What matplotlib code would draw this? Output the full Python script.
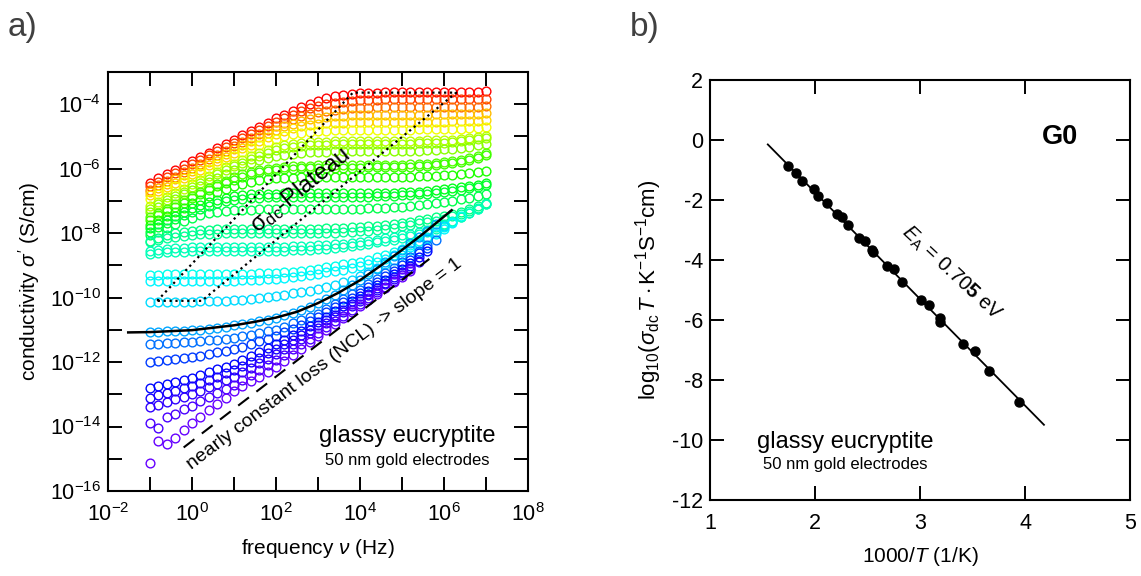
import numpy as np
import matplotlib
matplotlib.use('Agg')
import matplotlib.pyplot as plt
from matplotlib import colors
from matplotlib.ticker import FixedLocator, FuncFormatter, NullLocator

plt.rcParams['font.family'] = ['Liberation Sans', 'DejaVu Sans']
plt.rcParams['mathtext.fontset'] = 'custom'
plt.rcParams['mathtext.rm'] = 'Liberation Sans'
plt.rcParams['mathtext.it'] = 'Liberation Sans:italic'
plt.rcParams['mathtext.bf'] = 'Liberation Sans:bold'
plt.rcParams['axes.unicode_minus'] = False

# measurement frequencies: 5 points per decade, 0.1 Hz ... 10 MHz
freq = np.logspace(-1, 7, 41)

# log10 sigma' (S/cm) per temperature, first value at 0.1 Hz
s573 = [-6.44, -6.30, -6.17, -6.03, -5.90, -5.77, -5.63, -5.50, -5.36, -5.23,
        -5.10, -4.96, -4.83, -4.70, -4.57, -4.44, -4.32, -4.20, -4.09, -3.99,
        -3.90, -3.82, -3.76, -3.72, -3.69, -3.66, -3.65, -3.64, -3.63, -3.62,
        -3.62, -3.62, -3.62, -3.62, -3.62, -3.62, -3.62, -3.62, -3.61, -3.61, -3.60]
s551 = [-6.53, -6.40, -6.26, -6.13, -6.00, -5.86, -5.73, -5.59, -5.46, -5.33,
        -5.19, -5.06, -4.93, -4.80, -4.67, -4.55, -4.43, -4.32, -4.22, -4.13,
        -4.05, -3.99, -3.95, -3.92, -3.89, -3.88, -3.87, -3.86, -3.85, -3.85,
        -3.85, -3.85, -3.85, -3.85, -3.85, -3.85, -3.84, -3.84, -3.84, -3.83, -3.83]
s532 = [-6.65, -6.51, -6.38, -6.25, -6.11, -5.98, -5.84, -5.71, -5.58, -5.44,
        -5.31, -5.18, -5.05, -4.92, -4.80, -4.68, -4.57, -4.47, -4.38, -4.30,
        -4.24, -4.20, -4.17, -4.14, -4.13, -4.12, -4.11, -4.10, -4.10, -4.10,
        -4.10, -4.10, -4.10, -4.10, -4.10, -4.09, -4.09, -4.09, -4.08, -4.08, -4.07]
s503 = [-6.73, -6.60, -6.47, -6.33, -6.20, -6.06, -5.93, -5.80, -5.66, -5.53,
        -5.40, -5.27, -5.14, -5.02, -4.90, -4.79, -4.69, -4.60, -4.52, -4.46,
        -4.42, -4.39, -4.36, -4.35, -4.34, -4.33, -4.32, -4.32, -4.32, -4.32,
        -4.32, -4.32, -4.32, -4.32, -4.31, -4.31, -4.31, -4.30, -4.30, -4.29, -4.28]
s493 = [-6.83, -6.70, -6.56, -6.43, -6.29, -6.16, -6.03, -5.89, -5.76, -5.63,
        -5.50, -5.37, -5.25, -5.13, -5.02, -4.92, -4.83, -4.75, -4.69, -4.65,
        -4.62, -4.59, -4.58, -4.57, -4.56, -4.55, -4.55, -4.55, -4.55, -4.55,
        -4.55, -4.55, -4.55, -4.54, -4.54, -4.54, -4.53, -4.53, -4.52, -4.51, -4.49]
s473 = [-6.94, -6.80, -6.67, -6.53, -6.40, -6.27, -6.13, -6.00, -5.87, -5.74,
        -5.61, -5.49, -5.37, -5.26, -5.16, -5.07, -4.99, -4.93, -4.89, -4.86,
        -4.83, -4.82, -4.81, -4.80, -4.79, -4.79, -4.79, -4.79, -4.79, -4.79,
        -4.79, -4.79, -4.78, -4.78, -4.78, -4.77, -4.77, -4.76, -4.75, -4.73, -4.71]
s453 = [-7.15, -7.02, -6.88, -6.75, -6.62, -6.48, -6.35, -6.22, -6.09, -5.96,
        -5.84, -5.72, -5.61, -5.51, -5.42, -5.34, -5.28, -5.24, -5.21, -5.18,
        -5.17, -5.16, -5.15, -5.14, -5.14, -5.14, -5.14, -5.14, -5.14, -5.14,
        -5.13, -5.13, -5.13, -5.12, -5.12, -5.11, -5.10, -5.08, -5.06, -5.03, -5.00]
s442 = [-7.24, -7.11, -6.97, -6.84, -6.71, -6.57, -6.44, -6.31, -6.18, -6.05,
        -5.93, -5.81, -5.70, -5.60, -5.51, -5.43, -5.37, -5.33, -5.30, -5.27,
        -5.26, -5.25, -5.24, -5.23, -5.23, -5.23, -5.23, -5.23, -5.23, -5.22,
        -5.22, -5.22, -5.21, -5.21, -5.20, -5.19, -5.17, -5.15, -5.12, -5.09, -5.05]
s433 = [-7.34, -7.20, -7.07, -6.94, -6.80, -6.67, -6.54, -6.41, -6.28, -6.16,
        -6.04, -5.93, -5.83, -5.74, -5.66, -5.60, -5.56, -5.53, -5.50, -5.49,
        -5.48, -5.47, -5.46, -5.46, -5.46, -5.46, -5.46, -5.46, -5.45, -5.45,
        -5.45, -5.44, -5.44, -5.43, -5.42, -5.40, -5.38, -5.35, -5.32, -5.28, -5.22]
s413 = [-7.51, -7.38, -7.24, -7.11, -6.98, -6.85, -6.72, -6.60, -6.48, -6.37,
        -6.27, -6.18, -6.10, -6.04, -6.00, -5.97, -5.94, -5.93, -5.92, -5.91,
        -5.90, -5.90, -5.90, -5.90, -5.90, -5.90, -5.89, -5.89, -5.89, -5.88,
        -5.88, -5.87, -5.86, -5.84, -5.82, -5.79, -5.76, -5.72, -5.66, -5.60, -5.52]
s404 = [-7.58, -7.45, -7.31, -7.18, -7.05, -6.92, -6.79, -6.67, -6.55, -6.44,
        -6.34, -6.25, -6.17, -6.11, -6.07, -6.04, -6.01, -6.00, -5.99, -5.98,
        -5.97, -5.97, -5.97, -5.97, -5.97, -5.97, -5.96, -5.96, -5.96, -5.95,
        -5.95, -5.94, -5.93, -5.91, -5.89, -5.86, -5.83, -5.79, -5.73, -5.67, -5.59]
s393 = [-7.74, -7.60, -7.47, -7.34, -7.21, -7.08, -6.96, -6.84, -6.73, -6.63,
        -6.54, -6.46, -6.40, -6.36, -6.33, -6.30, -6.29, -6.28, -6.27, -6.26,
        -6.26, -6.26, -6.26, -6.26, -6.26, -6.26, -6.26, -6.26, -6.26, -6.26,
        -6.26, -6.25, -6.24, -6.23, -6.22, -6.21, -6.19, -6.17, -6.14, -6.11, -6.08]
s373 = [-7.84, -7.71, -7.58, -7.46, -7.34, -7.23, -7.13, -7.04, -6.96, -6.90,
        -6.86, -6.83, -6.80, -6.79, -6.78, -6.77, -6.76, -6.76, -6.76, -6.76,
        -6.76, -6.76, -6.76, -6.76, -6.76, -6.76, -6.76, -6.76, -6.75, -6.74,
        -6.73, -6.72, -6.71, -6.69, -6.67, -6.64, -6.61, -6.58, -6.54, -6.50, -6.45]
s363 = [-7.95, -7.82, -7.69, -7.57, -7.45, -7.34, -7.24, -7.15, -7.07, -7.01,
        -6.97, -6.94, -6.91, -6.90, -6.89, -6.88, -6.87, -6.87, -6.87, -6.87,
        -6.87, -6.87, -6.87, -6.87, -6.87, -6.87, -6.87, -6.86, -6.85, -6.84,
        -6.83, -6.82, -6.80, -6.78, -6.75, -6.72, -6.69, -6.65, -6.61, -6.56, -6.52]
s353 = [-8.07, -7.95, -7.83, -7.72, -7.62, -7.53, -7.45, -7.39, -7.35, -7.32,
        -7.29, -7.28, -7.27, -7.26, -7.25, -7.25, -7.25, -7.25, -7.25, -7.25,
        -7.25, -7.25, -7.25, -7.25, -7.25, -7.24, -7.23, -7.22, -7.21, -7.20,
        -7.18, -7.16, -7.13, -7.10, -7.07, -7.03, -6.99, -6.94, -6.90, -6.85, -6.79]
s333 = [-8.23, -8.14, -8.06, -8.00, -7.96, -7.93, -7.90, -7.89, -7.88, -7.87,
        -7.86, -7.86, -7.86, -7.86, -7.86, -7.86, -7.86, -7.86, -7.86, -7.86,
        -7.86, -7.85, -7.84, -7.83, -7.82, -7.81, -7.79, -7.77, -7.74, -7.71,
        -7.68, -7.64, -7.60, -7.55, -7.51, -7.46, -7.40, -7.33, -7.26, -7.17, -7.07]
s324 = [-8.29, -8.21, -8.15, -8.11, -8.08, -8.05, -8.04, -8.03, -8.02, -8.01,
        -8.01, -8.01, -8.01, -8.01, -8.01, -8.01, -8.01, -8.01, -8.01, -8.01,
        -8.00, -7.99, -7.98, -7.97, -7.96, -7.94, -7.92, -7.89, -7.86, -7.83,
        -7.79, -7.75, -7.70, -7.66, -7.61, -7.55, -7.48, -7.41, -7.32, -7.22, -7.10]
s313a = [-8.56, -8.52, -8.49, -8.46, -8.45, -8.44, -8.43, -8.42, -8.42, -8.42,
         -8.42, -8.42, -8.42, -8.42, -8.42, -8.42, -8.42, -8.41, -8.40, -8.39,
         -8.38, -8.37, -8.35, -8.33, -8.30, -8.27, -8.24, -8.20, -8.16, -8.11,
         -8.07, -8.02, -7.96, -7.89, -7.82, -7.73, -7.63, -7.51, -7.38, -7.25, -7.11]
s313b = [-8.65, -8.62, -8.59, -8.58, -8.57, -8.56, -8.55, -8.55, -8.55, -8.55,
         -8.55, -8.55, -8.55, -8.55, -8.55, -8.55, -8.54, -8.53, -8.52, -8.51,
         -8.50, -8.48, -8.46, -8.43, -8.40, -8.37, -8.33, -8.29, -8.24, -8.20,
         -8.15, -8.09, -8.02, -7.95, -7.86, -7.76, -7.64, -7.51, -7.38, -7.24]
s293 = [-9.30, -9.29, -9.28, -9.28, -9.28, -9.28, -9.28, -9.28, -9.28, -9.28,
        -9.28, -9.27, -9.26, -9.25, -9.24, -9.23, -9.21, -9.19, -9.16, -9.13,
        -9.10, -9.06, -9.02, -8.97, -8.93, -8.88, -8.82, -8.75, -8.68, -8.59,
        -8.49, -8.37, -8.24, -8.11, -7.97, -7.82, -7.66, -7.48]
s283 = [-9.50, -9.49, -9.48, -9.48, -9.48, -9.48, -9.48, -9.48, -9.48, -9.48,
        -9.47, -9.46, -9.45, -9.44, -9.43, -9.41, -9.39, -9.36, -9.33, -9.30,
        -9.26, -9.22, -9.17, -9.13, -9.08, -9.02, -8.95, -8.88, -8.79, -8.69,
        -8.57, -8.44, -8.31, -8.17, -8.02, -7.86, -7.68]
s273 = [-10.13, -10.13, -10.13, -10.13, -10.13, -10.13, -10.12, -10.11, -10.10, -10.09,
        -10.08, -10.06, -10.04, -10.01, -9.98, -9.95, -9.91, -9.87, -9.82, -9.78,
        -9.73, -9.67, -9.60, -9.53, -9.44, -9.34, -9.22, -9.09, -8.96, -8.82,
        -8.67, -8.51, -8.33, -8.15, -7.96, -7.77]
s253 = [-11.07, -11.06, -11.05, -11.04, -11.03, -11.01, -10.99, -10.96, -10.93, -10.90,
        -10.86, -10.82, -10.78, -10.73, -10.68, -10.62, -10.55, -10.48, -10.40, -10.29,
        -10.17, -10.04, -9.91, -9.77, -9.62, -9.46, -9.28, -9.10, -8.91, -8.71,
        -8.52, -8.32, -8.12, -7.92, -7.72]
s233 = [-11.45, -11.44, -11.42, -11.41, -11.39, -11.38, -11.35, -11.33, -11.30, -11.28,
        -11.25, -11.20, -11.15, -11.10, -11.05, -11.00, -10.90, -10.80, -10.70, -10.60,
        -10.50, -10.35, -10.20, -10.05, -9.90, -9.75, -9.58, -9.41, -9.24, -9.07,
        -8.90, -8.73, -8.55, -8.38, -8.20]
s213 = [-12.00, -11.97, -11.94, -11.91, -11.88, -11.85, -11.80, -11.75, -11.70, -11.65,
        -11.60, -11.52, -11.44, -11.36, -11.28, -11.20, -11.08, -10.96, -10.84, -10.72,
        -10.60, -10.45, -10.30, -10.15, -10.00, -9.85, -9.68, -9.51, -9.34, -9.17,
        -9.00, -8.82, -8.63, -8.45]
s193 = [-12.80, -12.74, -12.68, -12.62, -12.56, -12.50, -12.41, -12.32, -12.23, -12.14,
        -12.05, -11.93, -11.81, -11.69, -11.57, -11.45, -11.31, -11.17, -11.03, -10.89,
        -10.75, -10.59, -10.43, -10.27, -10.11, -9.95, -9.78, -9.61, -9.44, -9.27,
        -9.10, -8.92, -8.73, -8.55]
s183 = [-13.10, -13.03, -12.96, -12.89, -12.82, -12.75, -12.65, -12.55, -12.45, -12.35,
        -12.25, -12.12, -11.99, -11.86, -11.73, -11.60, -11.45, -11.30, -11.15, -11.00,
        -10.85, -10.69, -10.53, -10.37, -10.21, -10.05, -9.88, -9.71, -9.54, -9.37,
        -9.20, -9.03, -8.85]
s173 = [-13.40, -13.32, -13.24, -13.16, -13.08, -13.00, -12.89, -12.78, -12.67, -12.56,
        -12.45, -12.31, -12.17, -12.03, -11.89, -11.75, -11.59, -11.43, -11.27, -11.11,
        -10.95, -10.78, -10.61, -10.44, -10.27, -10.10, -9.93, -9.76, -9.59, -9.42,
        -9.25, -9.08, -8.90]
s163 = [-13.90, -14.06, -13.70, -13.60, -13.46, -13.35, -13.22, -13.09, -12.96, -12.83,
        -12.70, -12.55, -12.40, -12.25, -12.10, -11.95, -11.78, -11.61, -11.44, -11.27,
        -11.10, -10.92, -10.74, -10.56, -10.38, -10.20, -10.02, -9.84, -9.66, -9.48,
        -9.30, -9.10]
s153 = [-15.14, -14.45, -14.55, -14.35, -14.10, -13.90, -13.70, -13.50, -13.30, -13.10,
        -12.90, -12.75, -12.60, -12.45, -12.30, -12.15, -11.96, -11.77, -11.58, -11.39,
        -11.20, -11.01, -10.82, -10.63, -10.44, -10.25, -10.07, -9.89, -9.71, -9.53,
        -9.35, -9.17]

temps = [573, 551, 532, 503, 493, 473, 453, 442, 433, 413, 404, 393, 373, 363, 353,
         333, 324, 313, 313, 293, 283, 273, 253, 233, 213, 193, 183, 173, 163, 153]
spectra = [s573, s551, s532, s503, s493, s473, s453, s442, s433, s413, s404, s393,
           s373, s363, s353, s333, s324, s313a, s313b, s293, s283, s273, s253,
           s233, s213, s193, s183, s173, s163, s153]

# fit curve through the 253 K spectrum (log10 nu, log10 sigma')
fit_lognu = [-1.52, -1.0, 0.0, 1.0, 1.5, 2.0, 2.5, 3.0, 3.5, 4.0, 4.5, 5.0, 5.5, 6.18]
fit_logsig = [-11.08, -11.07, -11.01, -10.86, -10.75, -10.62, -10.44, -10.17,
              -9.84, -9.46, -9.00, -8.52, -8.02, -7.29]

# outline of the dc plateau region (log10 nu, log10 sigma')
plateau_lognu = [-0.83, 3.83, 6.29, 0.23, -0.83]
plateau_logsig = [-10.10, -3.64, -3.64, -10.10, -10.10]

# slope-1 guide for the nearly constant loss
ncl_lognu = [-0.2, 5.65]
ncl_logsig = [-14.65, -8.80]

# Arrhenius data: 1000/T (1/K) and log10(sigma_dc T)
inv_T = [1.746, 1.816, 1.879, 1.990, 2.030, 2.114, 2.206, 2.260, 2.311, 2.422, 2.473, 2.546,
         2.550, 2.683, 2.752, 2.832, 3.006, 3.089, 3.190, 3.190, 3.413, 3.527, 3.660, 3.946]
log_sigT = [-0.87, -1.11, -1.37, -1.62, -1.86, -2.11, -2.48, -2.58, -2.82, -3.28, -3.36, -3.65,
            -3.73, -4.19, -4.31, -4.72, -5.34, -5.50, -5.92, -6.05, -6.81, -7.03, -7.69, -8.72]
E_A = 0.705          # eV
fit_intercept = 5.36
fit_x = [1.55, 4.18]
k_B = 8.617e-5       # eV/K

fig = plt.figure(figsize=(11.41, 5.76), dpi=100)

# ---------------- a) conductivity spectra ----------------
ax1 = fig.add_axes([0.0947, 0.1476, 0.3681, 0.7274])
tmax, tmin = 573.0, 143.0
for T, ls in zip(temps, spectra):
    hue = 0.75 * (tmax - T) / (tmax - tmin)
    col = colors.hsv_to_rgb([hue, 1.0, 1.0])
    ax1.plot(freq[:len(ls)], 10.0 ** np.array(ls), 'o', mfc='none', mec=col,
             ms=6.3, mew=1.0, zorder=2)

ax1.plot(10.0 ** np.array(fit_lognu), 10.0 ** np.array(fit_logsig), '-', color='k', lw=1.8, zorder=4)
ax1.plot(10.0 ** np.array(plateau_lognu), 10.0 ** np.array(plateau_logsig), ':', color='k', lw=1.6, zorder=4)
ax1.plot(10.0 ** np.array(ncl_lognu), 10.0 ** np.array(ncl_logsig), color='k', lw=1.5,
         dashes=(6.5, 4.5), zorder=4)

ax1.set_xscale('log')
ax1.set_yscale('log')
ax1.set_xlim(1e-2, 1e8)
ax1.set_ylim(1e-16, 1e-3)


def dec_label(v, pos):
    e = int(round(np.log10(v)))
    return r'$10^{%d}$' % e if e % 2 == 0 else ''


ax1.xaxis.set_major_locator(FixedLocator([10.0 ** k for k in range(-2, 9)]))
ax1.yaxis.set_major_locator(FixedLocator([10.0 ** k for k in range(-16, -2)]))
ax1.xaxis.set_minor_locator(NullLocator())
ax1.yaxis.set_minor_locator(NullLocator())
ax1.xaxis.set_major_formatter(FuncFormatter(dec_label))
ax1.yaxis.set_major_formatter(FuncFormatter(dec_label))
ax1.tick_params(which='both', direction='in', length=10, width=1.4, top=True, right=True,
                labelsize=15.5)
ax1.tick_params(axis='x', pad=9)
ax1.tick_params(axis='y', pad=5)
for sp in ax1.spines.values():
    sp.set_linewidth(1.5)

ax1.set_xlabel(r'frequency $\nu$ (Hz)', fontsize=15, labelpad=8)
ax1.set_ylabel(r"conductivity $\sigma'$ (S/cm)", fontsize=15, labelpad=6)

ax1.text(10 ** 2.57, 10 ** -6.67, r'$\mathrm{\sigma}_\mathrm{dc}$-Plateau', fontsize=17,
         rotation=39, ha='center', va='center', rotation_mode='anchor', zorder=5)
ax1.text(10 ** 3.15, 10 ** -12.05, 'nearly constant loss (NCL) -> slope = 1', fontsize=14,
         rotation=37, ha='center', va='center', rotation_mode='anchor', zorder=5)
ax1.text(10 ** 5.12, 10 ** -14.29, 'glassy eucryptite', fontsize=17, ha='center', va='center')
ax1.text(10 ** 5.12, 10 ** -15.04, '50 nm gold electrodes', fontsize=12, ha='center', va='center')

# ---------------- b) Arrhenius plot ----------------
ax2 = fig.add_axes([0.6223, 0.1319, 0.3681, 0.7292])
slope = -E_A / (k_B * np.log(10)) / 1000.0
fx = np.array(fit_x)
ax2.plot(fx, fit_intercept + slope * fx, '-', color='k', lw=1.3)
ax2.plot(inv_T, log_sigT, 'o', color='k', ms=6.5)

ax2.set_xlim(1, 5)
ax2.set_ylim(-12, 2)
ax2.set_xticks([1, 2, 3, 4, 5])
ax2.set_yticks([-12, -10, -8, -6, -4, -2, 0, 2])
ax2.tick_params(direction='in', length=10, width=1.4, top=True, right=True, labelsize=15.5)
ax2.tick_params(axis='x', pad=9)
ax2.tick_params(axis='y', pad=5)
for sp in ax2.spines.values():
    sp.set_linewidth(1.5)

ax2.set_xlabel(r'1000/$T$ (1/K)', fontsize=15, labelpad=8)
ax2.set_ylabel(r'$\mathrm{log_{10}(}\sigma_\mathrm{dc}\,T\cdot\mathrm{K^{-1}S^{-1}cm)}$',
               fontsize=16, labelpad=6)

ax2.text(4.33, 0.10, 'G0', fontsize=19.5, fontweight='bold', ha='center', va='center')
ax2.text(3.295, -4.43, r'$E_\mathrm{A}$ = 0.70$\mathbf{5}$ eV', fontsize=14.5, rotation=-43,
         ha='center', va='center', rotation_mode='anchor')
ax2.text(2.286, -10.07, 'glassy eucryptite', fontsize=17, ha='center', va='center')
ax2.text(2.286, -10.83, '50 nm gold electrodes', fontsize=12, ha='center', va='center')

fig.text(0.007, 0.953, 'a)', fontsize=24, color='#404040', ha='left', va='center')
fig.text(0.552, 0.953, 'b)', fontsize=24, color='#404040', ha='left', va='center')

fig.savefig('out.png', dpi=100)
